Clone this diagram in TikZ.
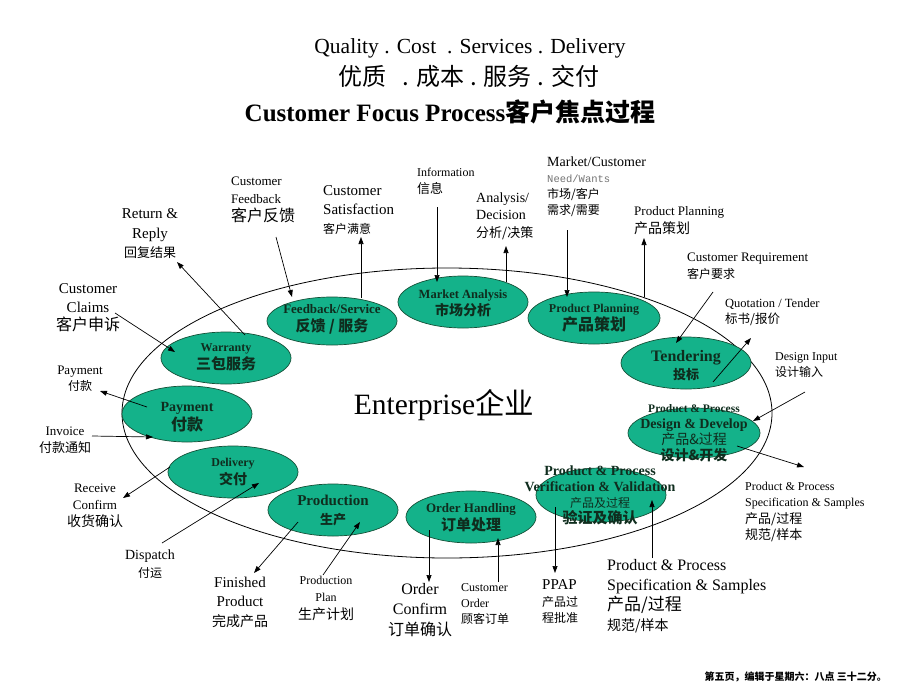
\documentclass[tikz,border=0pt]{standalone}
\usepackage{fontspec}
\setmainfont{Liberation Serif}
\setmonofont{Liberation Mono}
\newfontfamily\cjk{Noto Sans CJK SC}
\usetikzlibrary{shapes.geometric,arrows.meta,calc}
\newcommand\fsz[2]{\fontsize{#1}{#2}\selectfont}
\definecolor{tealfill}{RGB}{20,178,138}
\definecolor{tealedge}{RGB}{20,80,55}
\definecolor{ntxt}{RGB}{15,45,30}
\begin{document}
\begin{tikzpicture}[x=1pt,y=-1pt,
  gnode/.style={ellipse, draw=tealedge, line width=0.7pt, fill=tealfill, inner sep=0, minimum width=130pt, minimum height=52pt},
  ntext/.style={inner sep=0, align=center, text=ntxt},
  lbl/.style={inner sep=0, align=center},
  lbll/.style={inner sep=0, align=left, anchor=west},
  arr/.style={-{Triangle[length=7pt,width=5pt]}, line width=0.7pt}]
\useasboundingbox (0,0) rectangle (920,690);

% titles
\node[lbl, font=\fsz{21.5}{24}] (t1) at (470,48) {Quality . Cost\ \ . Services . Delivery};
\node[lbl, font=\cjk\fsz{24}{26}] (t2) at (469,76) {优质\ \ \ . 成本 . 服务 . 交付};
\node[lbl, font=\bfseries\fsz{25}{28}] (t3) at (450,112) {Customer Focus Process{\cjk 客户焦点过程}};

% enterprise
\node[ellipse, draw, line width=0.8pt, inner sep=0, minimum width=650pt, minimum height=290pt] (enterprise) at (447,413) {};
\node[lbl, font=\fsz{29.5}{32}] (entt) at (444,405) {Enterprise{\cjk 企业}};

% green process nodes
\node[gnode] (warranty) at (226,358) {};
\node[gnode, minimum height=48pt] (fbs) at (332,321) {};
\node[gnode] (mkta) at (463,302) {};
\node[gnode, minimum width=132pt] (ppl) at (594,318) {};
\node[gnode] (tend) at (686,363) {};
\node[gnode, minimum width=132pt, minimum height=50pt] (dd) at (694,433) {};
\node[gnode, minimum height=54pt] (vv) at (601,495) {};
\node[gnode] (oh) at (471,517) {};
\node[gnode] (prod) at (333,510) {};
\node[gnode] (deliv) at (233,472) {};
\node[gnode, minimum height=56pt] (pay) at (187,414) {};

\node[ntext, font=\bfseries\fsz{12}{18}] (warrantyt) at (226,357) {Warranty\\{\cjk\fsz{15}{18}三包服务}};
\node[ntext, font=\bfseries\fsz{13}{18}] (fbst) at (332,319) {Feedback/Service\\{\cjk\fsz{15}{18}反馈 / 服务}};
\node[ntext, font=\bfseries\fsz{12.5}{17}] (mktat) at (463,303) {Market Analysis\\{\cjk\fsz{14}{17}市场分析}};
\node[ntext, font=\bfseries\fsz{12}{18}] (pplt) at (594,318) {Product Planning\\{\cjk\fsz{16}{18}产品策划}};
\node[ntext, font=\bfseries\fsz{16}{18}] (tendt) at (686,366) {Tendering\\{\cjk\fsz{13}{18}投标}};
\node[ntext, font=\bfseries\fsz{14}{16}] (ddt) at (694,433) {{\fsz{11.5}{16}Product \& Process}\\Design \& Develop\\{\cjk\mdseries 产品\&过程}\\{\cjk 设计\&开发}};
\node[ntext, font=\bfseries\fsz{14}{16}] (vvt) at (600,495) {Product \& Process\\Verification \& Validation\\{\cjk\mdseries\fsz{12}{16}产品及过程}\\{\cjk\fsz{15}{16}验证及确认}};
\node[ntext, font=\bfseries\fsz{13}{18}] (oht) at (471,518) {Order Handling\\{\cjk\fsz{15}{18}订单处理}};
\node[ntext, font=\bfseries\fsz{15}{19}] (prodt) at (333,511) {Production\\{\cjk\fsz{13}{19}生产}};
\node[ntext, font=\bfseries\fsz{12}{18}] (delivt) at (233,472) {Delivery\\{\cjk\fsz{14}{18}交付}};
\node[ntext, font=\bfseries\fsz{14}{19}] (payt) at (187,417) {Payment\\{\cjk\fsz{16}{19}付款}};

% outer labels
\node[lbl, font=\fsz{15}{18.5}] (claims) at (88,308) {Customer\\Claims\\{\cjk\fsz{16}{18.5}客户申诉}};
\node[lbl, font=\fsz{15}{19.5}] (retrep) at (150,234) {Return \&\\Reply\\{\cjk\fsz{13}{19.5}回复结果}};
\node[lbll, font=\fsz{13}{18}] (custfb) at (231,200) {Customer\\Feedback\\{\cjk\fsz{16}{18}客户反馈}};
\node[lbll, font=\fsz{15}{19}] (custsat) at (323,210) {Customer\\Satisfaction\\{\cjk\fsz{12}{19}客户满意}};
\node[lbll, font=\fsz{12}{17}] (info) at (417,181) {Information\\{\cjk\fsz{13}{17}信息}};
\node[lbll, font=\fsz{14}{17.5}] (analysis) at (476,216) {Analysis/\\Decision\\{\cjk\fsz{13}{17.5}分析/决策}};
\node[lbll, font=\fsz{14}{16}] (mkt) at (547,187) {Market/Customer\\{\ttfamily\color{gray!90!black}\fsz{10.5}{16}Need/Wants}\\{\cjk\fsz{12}{16}市场/客户}\\{\cjk\fsz{12}{16}需求/需要}};
\node[lbll, font=\fsz{13}{18}] (pplabel) at (634,221) {Product Planning\\{\cjk\fsz{14}{18}产品策划}};
\node[lbll, font=\fsz{13}{17}] (custreq) at (687,266) {Customer Requirement\\{\cjk\fsz{12}{17}客户要求}};
\node[lbll, font=\fsz{12.5}{16}] (quot) at (725,312) {Quotation / Tender\\{\cjk\fsz{12.5}{16}标书/报价}};
\node[lbll, font=\fsz{12}{16}] (designin) at (775,365) {Design Input\\{\cjk\fsz{12}{16}设计输入}};
\node[lbll, font=\fsz{12}{16.3}] (specr) at (745,512) {Product \& Process\\Specification \& Samples\\{\cjk\fsz{13}{16.3}产品/过程}\\{\cjk\fsz{13}{16.3}规范/样本}};
\node[lbll, font=\fsz{16}{20}] (specb) at (607,596) {Product \& Process\\Specification \& Samples\\{\cjk\fsz{17}{20}产品/过程}\\{\cjk\fsz{14}{20}规范/样本}};
\node[lbll, font=\fsz{15}{16.5}] (ppap) at (542,602) {PPAP\\{\cjk\fsz{12}{16.5}产品过}\\{\cjk\fsz{12}{16.5}程批准}};
\node[lbll, font=\fsz{12}{16}] (custord) at (461,604) {Customer\\Order\\{\cjk\fsz{12}{16}顾客订单}};
\node[lbl, font=\fsz{16}{20.5}] (ordconf) at (420,610) {Order\\Confirm\\{\cjk\fsz{16}{20.5}订单确认}};
\node[lbl, font=\fsz{12}{17.5}] (prodplan) at (326,598) {Production\\Plan\\{\cjk\fsz{14}{17.5}生产计划}};
\node[lbl, font=\fsz{15}{19.5}] (finished) at (240,602) {Finished\\Product\\{\cjk\fsz{14}{19.5}完成产品}};
\node[lbl, font=\fsz{14}{18}] (dispatch) at (150,564) {Dispatch\\{\cjk\fsz{12}{18}付运}};
\node[lbl, font=\fsz{13}{17}] (receive) at (95,506) {Receive\\Confirm\\{\cjk\fsz{14}{17}收货确认}};
\node[lbl, font=\fsz{13}{17}] (invoice) at (65,440) {Invoice\\{\cjk\fsz{13}{17}付款通知}};
\node[lbl, font=\fsz{13}{16}] (paylbl) at (80,379) {Payment\\{\cjk\fsz{12}{16}付款}};

% connectors
\draw[arr] ($(claims)+(27,5)$) -- ($(warranty)+(-51,-6)$);
\draw[arr] ($(warranty)+(19,-23)$) -- ($(retrep)+(27,28)$);
\draw[arr] ($(custfb.west)+(45,37)$) -- ($(fbs)+(-40,-24)$);
\draw[arr] ($(fbs)+(29,-23)$) -- ($(custsat.west)+(38,27)$);
\draw[arr] ($(info.west)+(20,26)$) -- ($(mkta)+(-26,-20)$);
\draw[arr] ($(mkta)+(43,-20)$) -- ($(analysis.west)+(30,30)$);
\draw[arr] ($(mkt.west)+(20,43)$) -- ($(ppl)+(-27,-21)$);
\draw[arr] ($(ppl)+(50,-21)$) -- ($(pplabel.west)+(10,17)$);
\draw[arr] ($(custreq.west)+(26,26)$) -- ($(tend)+(-10,-20)$);
\draw[arr] ($(tend)+(27,19)$) -- ($(quot.west)+(26,26)$);
\draw[arr] ($(designin.west)+(30,27)$) -- ($(dd)+(59,-12)$);
\draw[arr] ($(dd)+(43,13)$) -- ($(specr.west)+(59,-45)$);
\draw[arr] ($(specb.west)+(45,-38)$) -- ($(vv)+(51,5)$);
\draw[arr] ($(vv)+(-46,12)$) -- ($(ppap.west)+(13,-29)$);
\draw[arr] ($(custord.west)+(37,-22)$) -- ($(oh)+(27,21)$);
\draw[arr] ($(oh)+(-42,13)$) -- ($(ordconf)+(9,-28)$);
\draw[arr] ($(prodplan)+(-3,-23)$) -- ($(prod)+(27,12)$);
\draw[arr] ($(prod)+(-35,12)$) -- ($(finished)+(14,-29)$);
\draw[arr] ($(dispatch)+(12,-21)$) -- ($(deliv)+(26,11)$);
\draw[arr] ($(deliv)+(-63,-5)$) -- ($(receive)+(28,-8)$);
\draw[arr] ($(invoice)+(27,-4)$) -- ($(pay)+(-34,23)$);
\draw[arr] ($(pay)+(-40,-7)$) -- ($(paylbl)+(20,12)$);

% footer
\node[anchor=east, inner sep=0, font=\cjk\bfseries\fsz{10}{12}] (footer) at (887,677) {第五页，编辑于星期六：八点 三十二分。};
\end{tikzpicture}
\end{document}
